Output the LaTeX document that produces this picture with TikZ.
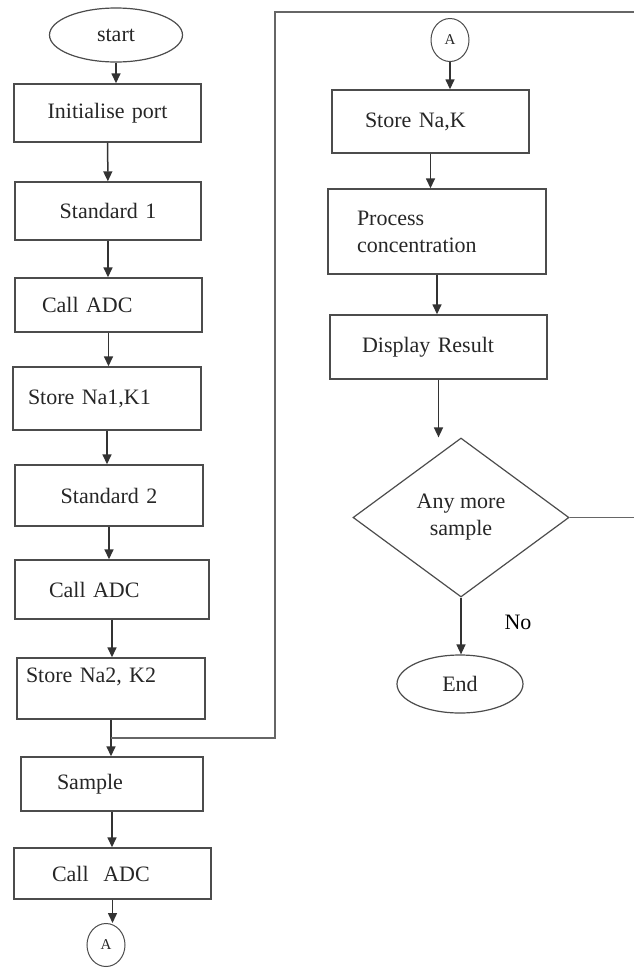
\documentclass[tikz,border=0pt]{standalone}
\usepackage{fontspec}
\setmainfont{Liberation Serif}
\usetikzlibrary{arrows.meta,shapes.geometric,calc}

\tikzset{
  box/.style={draw=black!70,line width=1.4pt,rectangle,align=left,inner ysep=0pt,text=black!85},
  term/.style={draw=black!70,line width=1.2pt,ellipse,inner sep=0pt,text=black!85},
  conn/.style={draw=black!70,line width=1pt,ellipse,inner sep=0pt,minimum width=38pt,minimum height=43pt,
    text=black!85,font=\fontsize{15}{15}\selectfont},
  dec/.style={draw=black!70,line width=1.2pt,diamond,inner sep=0pt,align=center,text=black!85},
  flow/.style={draw=black!80,line width=1.5pt,-{Triangle[length=10pt,width=9pt]}},
  loopline/.style={draw=black!60,line width=1.6pt},
}

\begin{document}
\begin{tikzpicture}[x=1pt,y=-1pt,font=\fontsize{22}{27}\selectfont]
% ==========================================
\useasboundingbox (0,0) rectangle (633,970);
%
\node[term,minimum width=133pt,minimum height=54pt] (start) at (116,35) {start};
\node[box,align=center,text width=187pt,inner xsep=0pt,minimum height=58pt] (init) at (107.5,113) {Initialise port};
\node[box,align=center,text width=186pt,inner xsep=0pt,minimum height=58pt] (std1) at (108,211) {Standard 1};
\node[box,text width=133pt,inner xsep=27pt,minimum height=54pt] (adc1) at (108.5,305) {Call ADC};
\node[box,text width=158pt,inner xsep=15pt,minimum height=63pt] (st1) at (107,398.5) {Store Na1,K1};
\node[box,align=center,text width=188pt,inner xsep=0pt,minimum height=61pt] (std2) at (109,495.5) {Standard 2};
\node[box,text width=126pt,inner xsep=34pt,minimum height=59pt] (adc2) at (112,589.5) {Call ADC};
\node[box,text width=170pt,inner xsep=9pt,minimum height=61pt] (st2) at (111,688.5) {Store Na2, K2\\\mbox{}};
\node[box,text width=110pt,inner xsep=36pt,minimum height=54pt] (smp) at (112,784) {Sample};
\node[box,text width=121pt,inner xsep=38pt,minimum height=51pt] (adc3) at (112.5,873.5) {Call\ \ ADC};
\node[conn] (aout) at (106,945) {A};
%
\node[conn] (ain) at (450,40) {A};
\node[box,text width=131pt,inner xsep=33pt,minimum height=63pt] (stnak) at (430.5,121.5) {Store Na,K};
\node[box,text width=160pt,inner xsep=29pt,minimum height=85pt] (proc) at (437,231.5) {Process\\concentration};
\node[box,text width=153pt,inner xsep=32pt,minimum height=64pt] (disp) at (438.5,347) {Display Result};
\node[dec,minimum width=216pt,minimum height=159pt] (more) at (461,517.5) {Any more\\sample};
\node[term,minimum width=126pt,minimum height=58pt] (stop) at (460,684) {End};
\node (no) at (518,622) {No};
% ==========================================
\draw[flow] (start.south) -- (start.south |- init.north);
\draw[flow] (init) -- (std1);
\draw[flow] (std1.south) -- (std1.south |- adc1.north);
\draw[flow] (adc1.south) -- (adc1.south |- st1.north);
\draw[flow] (st1.south) -- (st1.south |- std2.north);
\draw[flow] (std2.south) -- (std2.south |- adc2.north);
\draw[flow] (adc2.south) -- (adc2.south |- st2.north);
\draw[flow] (st2.south) -- (st2.south |- smp.north);
\draw[flow] (smp.south) -- (smp.south |- adc3.north);
\draw[flow] (adc3.south) -- (adc3.south |- aout.north);
%
\draw[flow] (ain.south) -- (ain.south |- stnak.north);
\draw[flow] (stnak.south) -- (stnak.south |- proc.north);
\draw[flow] (proc.south) -- (proc.south |- disp.north);
\draw[flow] (disp.south) -- (disp.south |- more.north);
\draw[flow] (more.south) -- (more.south |- stop.north);
% loop back for the next sample
\coordinate (ya) at (640,517.5);
\coordinate (yb) at (640,12);
\coordinate (yc) at (275,12);
\coordinate (yd) at (275,738);
\draw[loopline] (more.east) -- (ya) -- (yb) -- (yc) -- (yd) -- (st2.south |- yd);
% ==========================================
\end{tikzpicture}
\end{document}
